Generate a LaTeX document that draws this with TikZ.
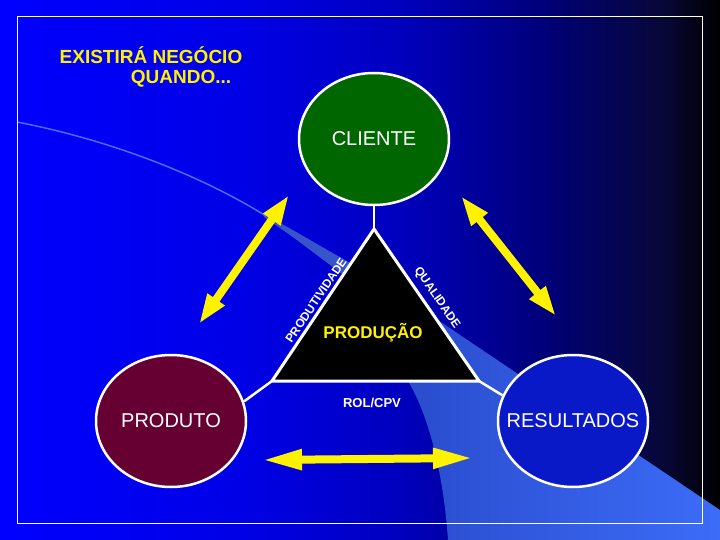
\documentclass[tikz,border=0pt]{standalone}
\usepackage{fontspec}
\setmainfont{Liberation Sans}
\usetikzlibrary{shapes.geometric, arrows.meta, positioning}

\definecolor{verdecli}{RGB}{0,102,0}
\definecolor{vinho}{RGB}{102,0,51}
\definecolor{azulres}{RGB}{10,25,200}
\definecolor{azulclaro}{RGB}{60,108,248}
\definecolor{azulmedio}{RGB}{42,76,205}
\definecolor{faixa}{RGB}{55,85,200}
\definecolor{linhafina}{RGB}{70,110,255}

% fundo: azul forte a esquerda, preto a direita
\pgfdeclarehorizontalshading{fundo}{100bp}{rgb(0bp)=(0,0,1); rgb(25bp)=(0,0,1); rgb(42bp)=(0,0,0.9); rgb(53bp)=(0,0,0.74); rgb(63bp)=(0,0,0.47); rgb(71bp)=(0.03,0.03,0.22); rgb(75bp)=(0,0,0); rgb(100bp)=(0,0,0)}

\begin{document}
\begin{tikzpicture}[
      x=1pt, y=-1pt,
      circulo/.style={ellipse, draw=white, line width=2.5pt, inner sep=0pt, minimum width=150pt, minimum height=132pt, text=white, font=\fontsize{20}{24}\selectfont},
      link/.style={draw=white, line width=2.5pt},
      seta/.style={draw=yellow, line width=8pt, {Triangle[length=30pt,width=19pt]}-{Triangle[length=30pt,width=19pt]}},
      setalonga/.style={seta, {Triangle[length=40pt,width=19pt]}-{Triangle[length=40pt,width=19pt]}},
      lado/.style={text=white, font=\bfseries\fontsize{12}{14}\selectfont, inner sep=1pt},
      titulo/.style={text=yellow, font=\bfseries\fontsize{19}{22}\selectfont}
      ]

      % Fundo
      \shade[shading=fundo] (0,0) rectangle (720,540);
      \shade[left color=azulmedio, right color=azulclaro] (420,308) -- (720,510) -- (720,540) -- (448,540) .. controls (444,480) and (430,415) .. (406,378) -- cycle;
      \fill[faixa] (262,213) .. controls (290,228) and (320,246) .. (352,264) -- (350,280) .. controls (318,256) and (290,234) .. (265,218) -- cycle;
      \draw[linhafina, line width=1.5pt] (17,122) .. controls (110,140) and (200,175) .. (266,216);
      \draw[white, line width=0.8pt] (17,16) rectangle (702,523);

      % Titulo
      \node[titulo] (titulo1) at (151,55) {EXISTIRÁ NEGÓCIO};
      \node[titulo] (titulo2) at (181,79) {QUANDO...};

      % Circulos
      \node[circulo, fill=verdecli] (cliente) at (374,139) {\makebox[0pt]{CLIENTE}};
      \node[circulo, fill=vinho] (produto) at (171,421) {\makebox[0pt]{PRODUTO}};
      \node[circulo, fill=azulres] (resultados) at (573,421) {\makebox[0pt]{RESULTADOS}};

      % Triangulo
      \coordinate (topo) at (374,229);
      \coordinate (baseE) at (272,381);
      \coordinate (baseD) at (479,381);
      \draw[link] (cliente) -- (topo);
      \draw[link] (baseE) -- (produto.15);
      \draw[link] (baseD) -- (resultados.160);
      \draw[white, line width=3pt, fill=black] (topo) -- (baseD) -- (baseE) -- cycle;
      \node[text=yellow, font=\bfseries\fontsize{17}{20}\selectfont] (producao) at (373,333) {PRODUÇÃO};
      \path (baseE) -- node[lado, sloped, above=3pt] (produtividade) {PRODUTIVIDADE} (topo);
      \path (topo) -- node[lado, sloped, above=6pt] (qualidade) {QUALIDADE} (baseD);
      \node[lado, font=\fontsize{13}{15}\selectfont\bfseries] (rol) at (372,403) {ROL/CPV};

      % Setas
      \coordinate (pe1) at (289,195);
      \coordinate (pe2) at (199,324);
      \coordinate (pd1) at (461,196);
      \coordinate (pd2) at (556,316);
      \coordinate (pb1) at (262,460);
      \coordinate (pb2) at (473,458);
      \draw[seta] (pe1) -- (pe2);
      \draw[seta] (pd1) -- (pd2);
      \draw[setalonga] (pb1) -- (pb2);
    \end{tikzpicture}
\end{document}
